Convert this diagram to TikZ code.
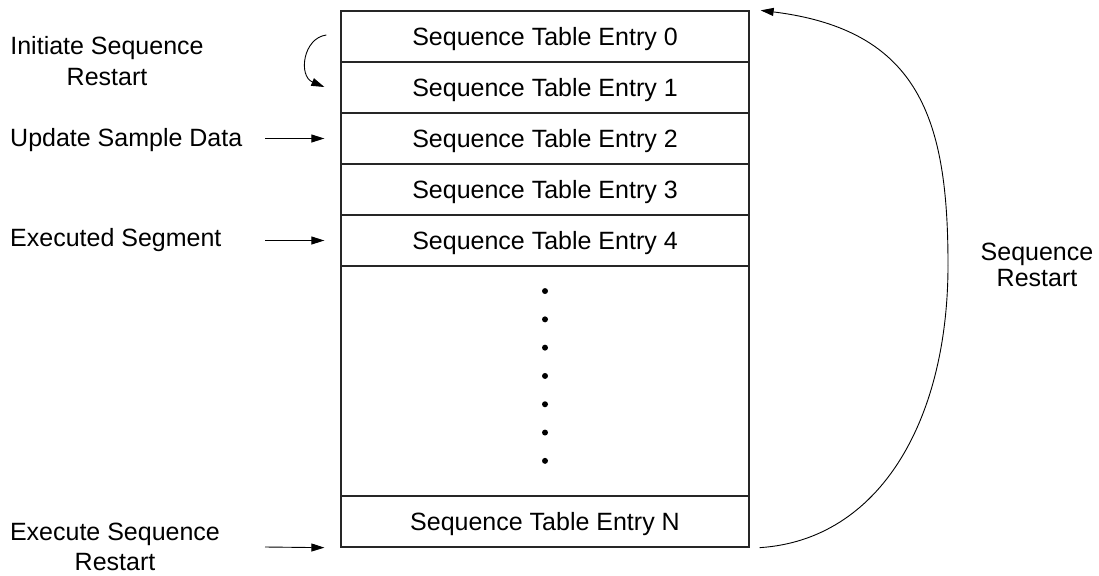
\documentclass[tikz,border=0pt]{standalone}
\usepackage{fontspec}
\setmainfont{Liberation Sans}
\usetikzlibrary{arrows.meta,calc}
\begin{document}
\begin{tikzpicture}[x=1pt,y=-1pt,
  entry/.style={draw=black!85, line width=1.3pt, minimum width=408pt, minimum height=51pt, inner sep=0pt, text height=18pt, text depth=0pt, font=\fontsize{25}{30}\selectfont},
  lbl/.style={inner sep=0pt, align=center},
  arr/.style={line width=0.9pt, -{Triangle[length=13pt,width=8pt]}},
  curve/.style={line width=0.9pt}]
\useasboundingbox (0,0) rectangle (1099,575);
% table
\node[entry] (e0) at (545,36.5) {Sequence Table Entry 0};
\node[entry] (e1) at (545,87.5) {Sequence Table Entry 1};
\node[entry] (e2) at (545,138.5) {Sequence Table Entry 2};
\node[entry] (e3) at (545,189.5) {Sequence Table Entry 3};
\node[entry] (e4) at (545,240.5) {Sequence Table Entry 4};
\node[entry, minimum height=230pt, text height=0pt] (dots) at (545,381) {};
\node[entry] (eN) at (545,521.5) {Sequence Table Entry N};
\foreach \k in {0,...,6}
  \fill ($(dots.north)+(0,{25.7+28.3*\k})$) circle (3pt);
% left labels
\node[lbl, font=\fontsize{25}{31.4}\selectfont] (l0) at (107,61.2) {Initiate Sequence\\Restart};
\node[lbl, font=\fontsize{25}{30}\selectfont, anchor=base west] (l2) at (10,146.7) {Update Sample Data};
\node[lbl, font=\fontsize{25}{30}\selectfont, anchor=base west] (l4) at (10,246.5) {Executed Segment};
\node[lbl, font=\fontsize{25}{30}\selectfont] (lN) at (115,547) {Execute Sequence\\Restart};
\node[lbl, font=\fontsize{25}{26}\selectfont] (rl) at (1037,265.3) {Sequence\\Restart};
% arrows
\coordinate (a0s) at ($(e0.west)+(-14,-1.5)$);
\coordinate (a0e) at ($(e1.west)+(-16,-0.5)$);
\draw[arr] (a0s) .. controls (303,38) and (298,76) .. (a0e);
\coordinate (a2s) at (265,138.5);
\draw[arr] (a2s) -- ($(e2.west)+(-16,0)$);
\coordinate (a4s) at (265,240.5);
\draw[arr] (a4s) -- ($(e4.west)+(-16,0)$);
\coordinate (aNs) at (265,547);
\draw[arr] (aNs) -- ($(eN.south west)+(-16,0)$);
% right restart curve
\coordinate (rs) at ($(eN.south east)+(10,0)$);
\coordinate (rm) at (948,265);
\coordinate (re) at ($(e0.north east)+(11,0)$);
\draw[curve] (rs) .. controls (880,540) and (948,420) .. (rm);
\draw[arr] (rm) .. controls (948,120) and (920,30) .. (re);
\end{tikzpicture}
\end{document}
